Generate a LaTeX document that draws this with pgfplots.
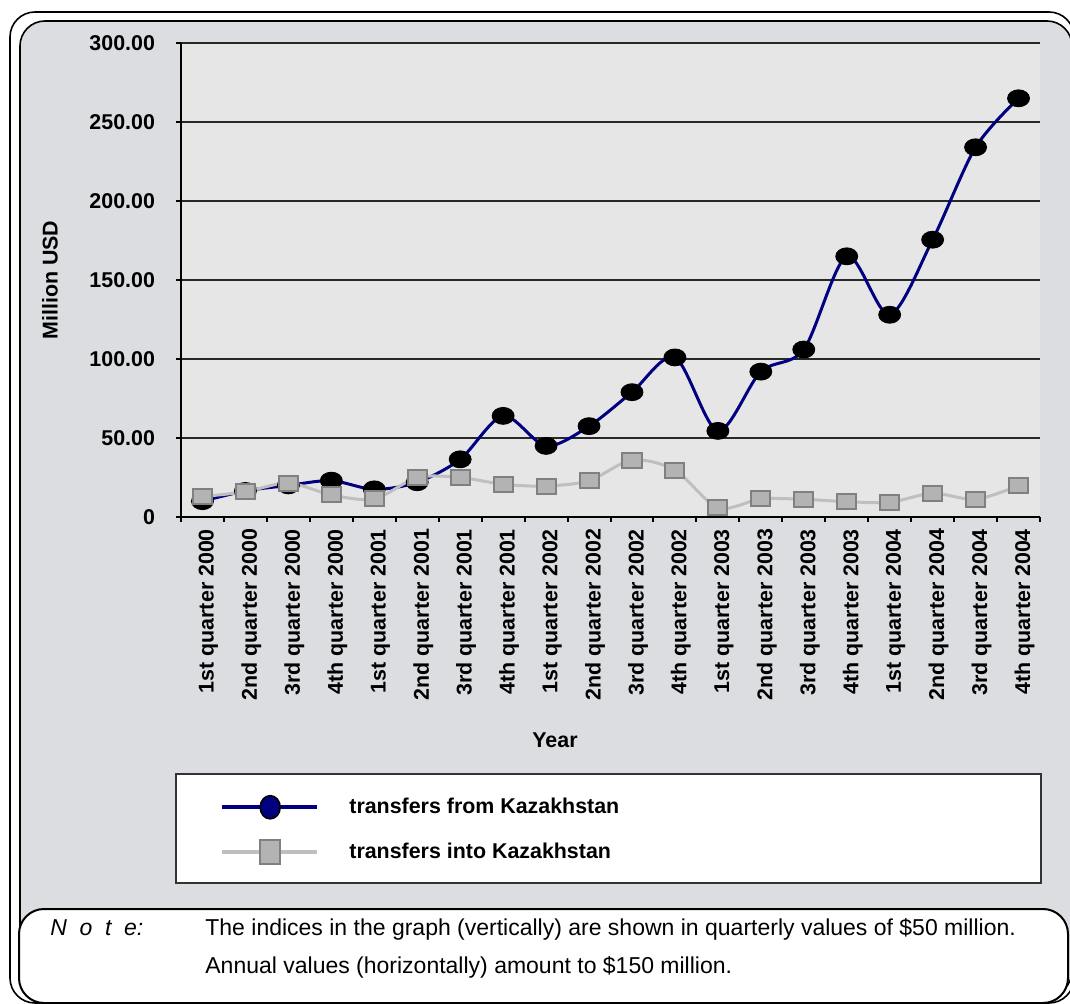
\documentclass[border=0pt]{standalone}
\usepackage{fontspec}
\setmainfont{Liberation Sans}
\usepackage{pgfplots}
\usepackage{pgfplotstable}
\pgfplotsset{compat=1.18}
\definecolor{panel}{RGB}{220,221,224}
\definecolor{plotbg}{RGB}{230,230,230}
\definecolor{navyline}{RGB}{0,0,128}
\definecolor{grayline}{RGB}{191,191,191}
\definecolor{grayfill}{RGB}{179,179,179}
\definecolor{grayedge}{RGB}{128,128,128}
\definecolor{gridc}{RGB}{40,40,40}

\pgfplotstableread{
x y
0 10
1 16.5
2 20
3 23
4 17.5
5 22
6 36.5
7 64
8 45
9 57.5
10 79
11 101
12 54.5
13 92
14 106
15 165
16 128
17 175.5
18 234
19 265
}\fromKZ

\pgfplotstableread{
x y
0 12.9
1 16
2 21.5
3 14
4 11.4
5 25
6 25
7 20.7
8 19.6
9 23
10 36
11 29.7
12 5.9
13 11.4
14 11.2
15 9.7
16 9.3
17 15
18 11.2
19 19.8
}\intoKZ

\newcommand{\bfs}{\fontsize{10.7}{12.8}\selectfont\bfseries}

\begin{document}
\begin{tikzpicture}
\useasboundingbox (0,0) rectangle (535pt,-502pt);
\fill[white] (0,0) rectangle (535pt,-502pt);
\begin{scope}[x=0.5pt,y=-0.5pt]
\draw[line width=0.8pt, rounded corners=12.5pt] (10,12) rectangle (1074,1003);
\draw[line width=0.8pt, fill=panel, rounded corners=12.5pt] (20,21) rectangle (1072,996);
\draw[line width=0.6pt, draw=black!80, fill=white] (176,774) rectangle (1041,883);
\end{scope}

\begin{axis}[
  at={(90.5pt,-258.5pt)}, anchor=south west,
  scale only axis, width=429.5pt, height=237pt,
  xmin=-0.5, xmax=19.5, ymin=0, ymax=300,
  clip=false,
  axis background/.style={fill=plotbg},
  axis x line*=bottom, axis y line*=left,
  axis line style={line width=1pt, -},
  tick align=outside,
  xtick={0,...,19},
  xticklabels={1st quarter 2000,2nd quarter 2000,3rd quarter 2000,4th quarter 2000,
    1st quarter 2001,2nd quarter 2001,3rd quarter 2001,4th quarter 2001,
    1st quarter 2002,2nd quarter 2002,3rd quarter 2002,4th quarter 2002,
    1st quarter 2003,2nd quarter 2003,3rd quarter 2003,4th quarter 2003,
    1st quarter 2004,2nd quarter 2004,3rd quarter 2004,4th quarter 2004},
  x tick label style={rotate=90, anchor=east, font=\bfs, yshift=-3pt},
  major x tick style={draw=none},
  minor xtick={-0.5,0.5,...,19.5},
  minor tick length=2.5pt,
  minor x tick style={line width=1pt, black},
  ytick={0,50,100,150,200,250,300},
  yticklabels={0,50.00,100.00,150.00,200.00,250.00,300.00},
  y tick label style={font=\bfs, xshift=-7pt},
  major tick length=2.5pt,
  major y tick style={line width=1pt, black},
  ymajorgrids,
  grid style={line width=0.75pt, gridc},
  xlabel={Year}, ylabel={Million USD},
  every axis x label/.style={at={(axis description cs:0.4354,-0.4705)},anchor=center,font=\bfs},
  every axis y label/.style={at={(axis description cs:-0.1525,0.5)},rotate=90,anchor=center,font=\bfs},
  legend style={draw=none, fill=none, inner sep=0pt, outer sep=0pt,
    at={(axis description cs:0.0454,-0.5844)}, anchor=north west,
    row sep=9pt, column sep=13pt, font=\bfs},
  legend cell align=left,
]
\addlegendimage{legend image code/.code={
  \draw[navyline, line width=2.2pt] (0pt,0pt) -- (47.5pt,0pt);
  \draw[black, fill=navyline, line width=0.8pt] (24pt,0pt) ellipse (5pt and 5.8pt);}}
\addlegendentry{transfers from Kazakhstan}
\addlegendimage{legend image code/.code={
  \draw[grayline, line width=2.2pt] (0pt,0pt) -- (47.5pt,0pt);
  \draw[grayedge, fill=grayfill, line width=1pt] (19pt,-6pt) rectangle (29pt,6pt);}}
\addlegendentry{transfers into Kazakhstan}

\addplot[forget plot, navyline, line width=1.5pt, smooth, tension=0.5,
  mark=*, mark size=4.2pt,
  mark options={fill=black, draw=black, line width=0.5pt, xscale=1.3, solid}]
  table[x=x,y=y] {\fromKZ};
\addplot[forget plot, grayline, line width=1.5pt, smooth, tension=0.5,
  mark=square*, mark size=3.75pt,
  mark options={fill=grayfill, draw=grayedge, line width=1pt, xscale=1.27, solid}]
  table[x=x,y=y] {\intoKZ};
\end{axis}

\begin{scope}[x=0.5pt,y=-0.5pt]
\draw[line width=1pt, fill=white, rounded corners=12.5pt] (19,909) rectangle (1068,1003);
\node[anchor=base west, inner sep=0pt, font=\fontsize{11.5}{13}\selectfont\itshape] at (50,935)
  {N\hspace{0.55em}o\hspace{0.55em}t\hspace{0.55em}e:};
\node[anchor=base west, inner sep=0pt, font=\fontsize{11.5}{13}\selectfont] at (205,935)
  {The indices in the graph (vertically) are shown in quarterly values of \$50 million.};
\node[anchor=base west, inner sep=0pt, font=\fontsize{11.5}{13}\selectfont] at (205,973)
  {Annual values (horizontally) amount to \$150 million.};
\end{scope}
\end{tikzpicture}
\end{document}
